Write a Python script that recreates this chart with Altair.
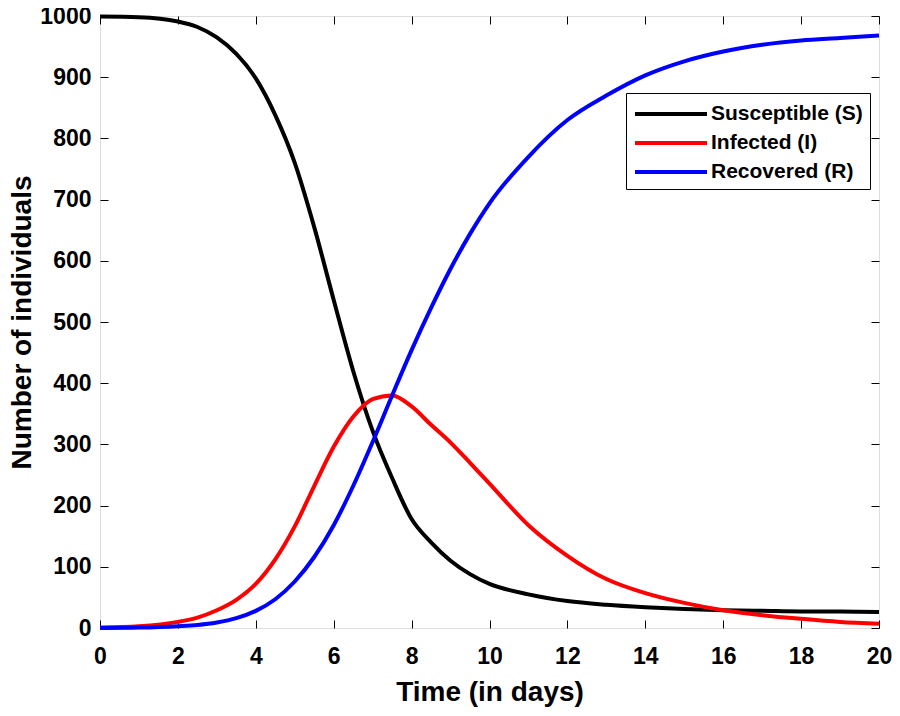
import altair as alt
import pandas as pd

t_days = [0, 1, 2, 2.5, 3, 3.5, 4, 4.5, 5, 5.5, 6, 6.5, 7, 7.5, 8, 8.5, 9, 9.5,
          10, 11, 12, 13, 14, 15, 16, 17, 18, 19, 20]
susceptible = [999, 998, 991, 982, 965, 938, 898, 838, 760, 655, 536, 420, 322, 245,
               178, 140, 110, 88, 72, 55, 44, 38, 34, 31, 29, 28, 27, 27, 26]
infected = [1, 3, 10, 17, 29, 46, 72, 112, 166, 232, 296, 345, 374, 380, 362, 332,
            303, 270, 236, 168, 118, 80, 57, 41, 29, 21, 15, 10, 7]
recovered = [0, 0.7, 3, 5, 9, 16, 28, 47, 76, 116, 168, 232, 304, 380, 454, 523,
             587, 644, 694, 770, 830, 870, 903, 926, 942, 953, 960, 964, 968]

series_names = ["Susceptible (S)", "Infected (I)", "Recovered (R)"]
series_colors = ["#000000", "#ff0000", "#0000ff"]

rows = []
for name, vals in zip(series_names, [susceptible, infected, recovered]):
    for t, v in zip(t_days, vals):
        rows.append({"t": t, "value": v, "series": name})
df = pd.DataFrame(rows)

FONT = "Liberation Sans"

x_scale = alt.Scale(domain=[0, 20], nice=False, zero=False)
y_scale = alt.Scale(domain=[0, 1000], nice=False)

lines = alt.Chart(df).mark_line(strokeWidth=4, interpolate="monotone").encode(
    x=alt.X("t:Q", scale=x_scale,
            axis=alt.Axis(title="Time (in days)", values=list(range(0, 21, 2)),
                          format="d", orient="bottom", offset=-8, tickSize=8,
                          domain=False, labelPadding=17, titlePadding=10,
                          labelFontSize=23, titleFontSize=28, labelFont=FONT,
                          titleFont=FONT, labelFontWeight="bold",
                          titleFontWeight="bold", labelColor="black",
                          titleColor="black", tickColor="black", grid=False,
                          labelFlush=False)),
    y=alt.Y("value:Q", scale=y_scale,
            axis=alt.Axis(title="Number of individuals", values=list(range(0, 1001, 100)),
                          format="d", orient="left", offset=-8, tickSize=8,
                          domain=False, labelPadding=9, titlePadding=3,
                          labelFontSize=23, titleFontSize=28, labelFont=FONT,
                          titleFont=FONT, labelFontWeight="bold",
                          titleFontWeight="bold", labelColor="black",
                          titleColor="black", tickColor="black", grid=False,
                          labelFlush=False)),
    color=alt.Color("series:N", sort=series_names,
                    scale=alt.Scale(domain=series_names, range=series_colors),
                    legend=alt.Legend(title=None, orient="none", legendX=526, legendY=77,
                                      symbolType="M-1,0H5", symbolSize=576,
                                      symbolStrokeWidth=4,
                                      labelFontSize=21,
                                      labelFont=FONT, labelFontWeight="bold",
                                      labelColor="black", labelOffset=50,
                                      rowPadding=5, padding=7,
                                      strokeColor="black", fillColor="white")),
)

frame = alt.Chart(df).mark_point(opacity=0).encode(
    x=alt.X("t:Q", scale=x_scale,
            axis=alt.Axis(title=None, values=list(range(0, 21, 2)), orient="top",
                          offset=-8, tickSize=8, domain=False, labels=False,
                          tickColor="black", grid=False)),
    y=alt.Y("value:Q", scale=y_scale,
            axis=alt.Axis(title=None, values=list(range(0, 1001, 100)), orient="right",
                          offset=-8, tickSize=8, domain=False, labels=False,
                          tickColor="black", grid=False)),
)

chart = alt.layer(lines, frame).properties(
    width=779, height=612,
    autosize=alt.AutoSizeParams(type="none"),
    padding={"left": 92, "top": 8, "right": 13, "bottom": 80},
).configure_view(stroke="black", strokeWidth=1.2).configure(background="white")

chart.save("out.html", embed_options={"renderer": "svg", "actions": False})
